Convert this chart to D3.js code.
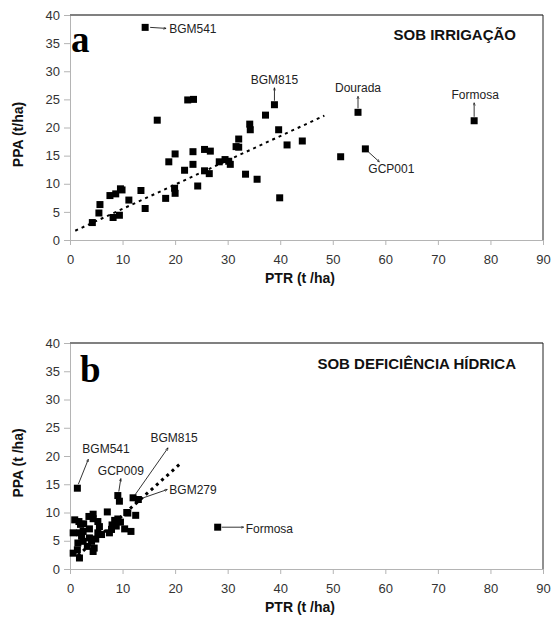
<!DOCTYPE html>
<html>
<head>
<meta charset="utf-8">
<script src="https://cdn.jsdelivr.net/npm/d3@7"></script>
<style>
  body { margin: 0; background: #fff; }
  svg { display: block; }
  .tick text { font-family: "Liberation Sans", Arial, sans-serif; font-size: 13px; fill: #333; }
  .axis path, .axis line { stroke: #b4b4b4; }
  .lbl { font-family: "Liberation Sans", Arial, sans-serif; font-size: 12px; fill: #222; }
  .ttl { font-family: "Liberation Sans", Arial, sans-serif; font-size: 15px; font-weight: bold; fill: #111; }
  .axt { font-family: "Liberation Sans", Arial, sans-serif; font-size: 14px; font-weight: bold; fill: #111; }
  .letter { font-family: "Liberation Serif", "Times New Roman", serif; font-size: 37px; font-weight: bold; fill: #000; }
</style>
</head>
<body>
<svg width="552" height="625"></svg>
<script>
// x: PTR (t/ha), y: PPA (t/ha)
var xTicks = [0, 10, 20, 30, 40, 50, 60, 70, 80, 90];
var yTicks = [0, 5, 10, 15, 20, 25, 30, 35, 40];

// a - sob irrigação
var ptrA = [14.3, 4.25, 5.5, 5.7, 7.6, 8.2, 8.7, 9.4, 9.6, 9.9, 11.2, 13.5, 14.3, 16.6, 18.2, 18.8, 19.9, 20.0, 20.0,
    21.8, 22.4, 23.5, 23.4, 23.4, 24.3, 25.6, 26.7, 25.6, 26.5, 28.4, 29.5, 30.2, 30.5, 31.6, 32.1, 32.1, 33.4,
    34.2, 34.3, 35.6, 37.2, 38.9, 39.7, 39.9, 41.3, 44.2, 51.5, 54.8, 56.2, 76.9];
var ppaA = [37.8, 3.1, 4.8, 6.3, 7.9, 4.0, 8.2, 4.4, 9.1, 8.9, 7.1, 8.8, 5.6, 21.3, 7.4, 13.9, 9.2, 8.3, 15.3,
    12.4, 24.9, 25.0, 15.7, 13.45, 9.6, 16.1, 15.8, 12.3, 11.8, 13.9, 14.3, 14.0, 13.45, 16.6, 16.5, 17.95, 11.7,
    20.6, 19.6, 10.8, 22.2, 24.05, 19.6, 7.5, 16.9, 17.6, 14.8, 22.7, 16.2, 21.2];
var trendA = [[1.0, 1.65], [48.4, 22.1]];

// b - sob deficiência hídrica
var ptrB = [1.4, 9.1, 9.4, 12.0, 13.0, 7.1, 4.4, 4.4, 11.0, 12.5, 0.9, 1.7, 5.3, 8.5, 9.1, 3.7, 5.6, 8.0, 7.9, 7.5,
    10.4, 11.6, 0.6, 1.8, 2.5, 5.3, 6.0, 1.5, 2.5, 3.7, 4.1, 3.3, 4.6, 4.4, 0.6, 1.8, 1.4, 28.1, 2.0, 9.6, 2.2,
    4.9, 8.8, 10.8, 3.6, 2.6];
var ppaB = [14.3, 13.0, 12.0, 12.6, 12.3, 10.1, 9.7, 8.9, 9.9, 9.5, 8.7, 8.4, 8.4, 8.6, 8.85, 7.1, 7.5, 7.8, 7.0, 6.4,
    7.1, 6.65, 6.4, 6.4, 6.65, 6.4, 6.1, 4.6, 4.9, 5.5, 4.9, 4.0, 3.7, 3.1, 2.8, 1.95, 3.4, 7.4, 7.9, 8.3, 5.8,
    5.3, 7.6, 10.0, 9.3, 8.0];
var trendB = [[1.5, 2.4], [21.3, 18.9]];

// labelled genotypes: index into the arrays above
var labelsA = [
    { name: "BGM541", i: 0, tx: 24, ty: 6, ax0: [5, 0], ax1: [21, 1], anchor: "start" },
    { name: "BGM815", i: 41, tx: 0, ty: -21, ax0: [0, -4], ax1: [0, -17], anchor: "middle" },
    { name: "Dourada", i: 47, tx: 0, ty: -20, ax0: [0, -4], ax1: [0, -16], anchor: "middle" },
    { name: "Formosa", i: 49, tx: 1, ty: -22, ax0: [0, -4], ax1: [0, -18], anchor: "middle" },
    { name: "GCP001", i: 48, tx: 3, ty: 24, ax0: [3, 3], ax1: [14, 13], anchor: "start" }
];
var labelsB = [
    { name: "BGM541", i: 0, tx: 5, ty: -35, ax0: [1, -4], ax1: [11, -29], anchor: "start" },
    { name: "GCP009", i: 1, tx: 3, ty: -21, ax0: [1, -4], ax1: [3, -17], anchor: "middle" },
    { name: "BGM815", i: 3, tx: 41, ty: -56, ax0: [2, -3], ax1: [35, -50], anchor: "middle" },
    { name: "BGM279", i: 4, tx: 31, ty: -6, ax0: [3, -1], ax1: [29, -10], anchor: "start" },
    { name: "Formosa", i: 37, tx: 28, ty: 6, ax0: [4, 0], ax1: [26, 0], anchor: "start" }
];

var svg = d3.select("svg");

svg.append("defs").append("marker")
    .attr("id", "arr")
    .attr("viewBox", "0 0 10 10")
    .attr("refX", 9).attr("refY", 5)
    .attr("markerWidth", 4).attr("markerHeight", 4)
    .attr("orient", "auto")
    .append("path")
    .attr("d", "M0,1 L9,5 L0,9")
    .attr("fill", "none")
    .attr("stroke", "#000")
    .attr("stroke-width", 1.5);

drawPanel({ top: 15, bottom: 240, xs: ptrA, ys: ppaA, trend: trendA, trendW: 2, labels: labelsA,
    letter: "a", letterY: 52, title: "SOB IRRIGAÇÃO", titleY: 40, yTitle: "PPA (t/ha)", xTitleY: 283 });
drawPanel({ top: 343, bottom: 569, xs: ptrB, ys: ppaB, trend: trendB, trendW: 3, labels: labelsB,
    letter: "b", letterY: 382, title: "SOB DEFICIÊNCIA HÍDRICA", titleY: 369, yTitle: "PPA (t /ha)", xTitleY: 612 });

function drawPanel(p) {
    var left = 70, right = 543;
    var x = d3.scaleLinear().domain([0, 90]).range([left, right]);
    var y = d3.scaleLinear().domain([0, 40]).range([p.bottom, p.top]);

    svg.append("g")
        .attr("class", "axis")
        .attr("transform", "translate(" + left + ",0)")
        .call(d3.axisLeft(y).tickValues(yTicks).tickSize(6).tickSizeOuter(0).tickPadding(4));

    svg.append("g")
        .attr("class", "axis")
        .attr("transform", "translate(0," + p.bottom + ")")
        .call(d3.axisBottom(x).tickValues(xTicks).tickSize(5).tickSizeOuter(0).tickPadding(10));

    // plot frame
    svg.append("line")
        .attr("x1", left).attr("x2", right)
        .attr("y1", p.top).attr("y2", p.top)
        .attr("stroke", "#808080").attr("stroke-width", 2);
    svg.append("line")
        .attr("x1", right).attr("x2", right)
        .attr("y1", p.top).attr("y2", p.bottom)
        .attr("stroke", "#222").attr("stroke-width", 1);

    // trend
    svg.append("line")
        .attr("x1", x(p.trend[0][0])).attr("y1", y(p.trend[0][1]))
        .attr("x2", x(p.trend[1][0])).attr("y2", y(p.trend[1][1]))
        .attr("stroke", "#000")
        .attr("stroke-width", p.trendW)
        .attr("stroke-dasharray", "3,4");

    // points
    svg.append("g").selectAll("rect")
        .data(p.xs)
        .enter()
        .append("rect")
        .attr("x", function(d) { return x(d) - 3.5; })
        .attr("y", function(d, i) { return y(p.ys[i]) - 3.5; })
        .attr("width", 7)
        .attr("height", 7)
        .attr("fill", "#000");

    // genotype labels
    p.labels.forEach(function(l) {
        var px = x(p.xs[l.i]), py = y(p.ys[l.i]);
        svg.append("line")
            .attr("x1", px + l.ax0[0]).attr("y1", py + l.ax0[1])
            .attr("x2", px + l.ax1[0]).attr("y2", py + l.ax1[1])
            .attr("stroke", "#000")
            .attr("stroke-width", 0.8)
            .attr("marker-end", "url(#arr)");
        svg.append("text")
            .attr("class", "lbl")
            .attr("x", px + l.tx)
            .attr("y", py + l.ty)
            .attr("text-anchor", l.anchor)
            .text(l.name);
    });

    svg.append("text")
        .attr("class", "letter")
        .attr("x", p.letter == "a" ? 71 : 80)
        .attr("y", p.letterY)
        .text(p.letter);

    svg.append("text")
        .attr("class", "ttl")
        .attr("x", 516)
        .attr("y", p.titleY)
        .attr("text-anchor", "end")
        .text(p.title);

    svg.append("text")
        .attr("class", "axt")
        .attr("transform", "translate(23," + ((p.top + p.bottom) / 2 + 7) + ") rotate(-90)")
        .attr("text-anchor", "middle")
        .text(p.yTitle);

    svg.append("text")
        .attr("class", "axt")
        .attr("x", 300)
        .attr("y", p.xTitleY)
        .attr("text-anchor", "middle")
        .text("PTR (t /ha)");
}
</script>
</body>
</html>
